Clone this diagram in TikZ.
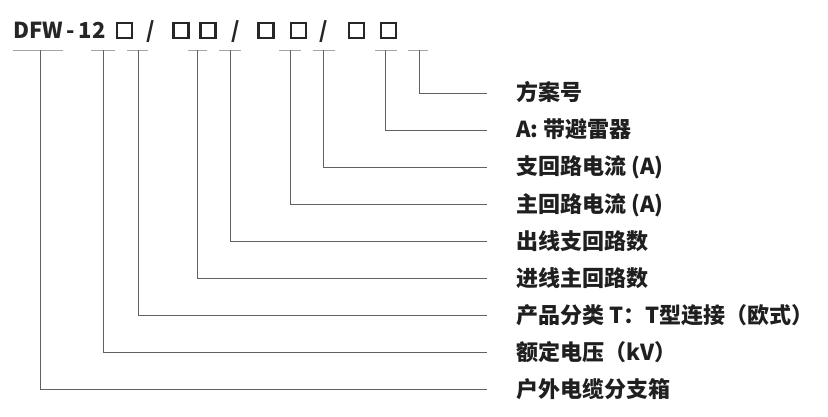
\documentclass[tikz,border=0pt]{standalone}
\usepackage{fontspec}
\setmainfont{Noto Sans CJK SC}
\begin{document}
\begin{tikzpicture}[x=1pt,y=-1pt,
  txt/.style={font=\fontsize{22}{26}\selectfont\bfseries, text=black!88, inner sep=0pt},
  hdr/.style={font=\fontsize{22}{26}\selectfont\bfseries, text=black!85, inner sep=0pt},
  sq/.style={draw=black!85, line width=2.1pt, minimum size=15pt, inner sep=0pt},
  uline/.style={draw=black!35, line width=0.6pt},
  lead/.style={draw=black!62, line width=0.9pt}]
\useasboundingbox (0,0) rectangle (828,417);
% header
\node[hdr, anchor=base west] (code) at (13.5,39) {DFW\kern-1.5pt\ -\ \kern-1.5pt12};
\node[sq] (b1) at (124.5,30.5) {};
\node[hdr, anchor=base] (s1) at (151,39) {/};
\node[sq] (b2) at (181,30.5) {};
\node[sq] (b3) at (208,30.5) {};
\node[hdr, anchor=base] (s2) at (236,39) {/};
\node[sq] (b4) at (266,30.5) {};
\node[sq] (b5) at (298.5,30.5) {};
\node[hdr, anchor=base] (s3) at (324,39) {/};
\node[sq] (b6) at (356.5,30.5) {};
\node[sq] (b7) at (388.5,30.5) {};
% underlines
\foreach \i/\a/\b/\c in {0/408/428/419, 1/375/397/385, 2/313/335/323, 3/279/301/290,
                         4/219/241/230, 5/188/207/197, 6/127/148/138, 7/91/115/103, 8/13/63/40}{
  \coordinate (u\i) at (\c,50);
  \draw[uline] (\a,50) -- (\b,50);
}
% label ends
\foreach \i in {0,...,8}{
  \coordinate (e\i) at (487,{93+37*\i});
}
\foreach \i/\t in {0/{方案号}, 1/{A: 带避雷器}, 2/{支回路电流 (A)}, 3/{主回路电流 (A)},
                   4/{出线支回路数}, 5/{进线主回路数}, 6/{产品分类 T：T型连接（欧式）},
                   7/{额定电压（kV）}, 8/{户外电缆分支箱}}{
  \node[txt, anchor=base west] (L\i) at ([shift={(29,8)}]e\i) {\t};
  \draw[lead] (u\i) |- (e\i);
}
\end{tikzpicture}
\end{document}
